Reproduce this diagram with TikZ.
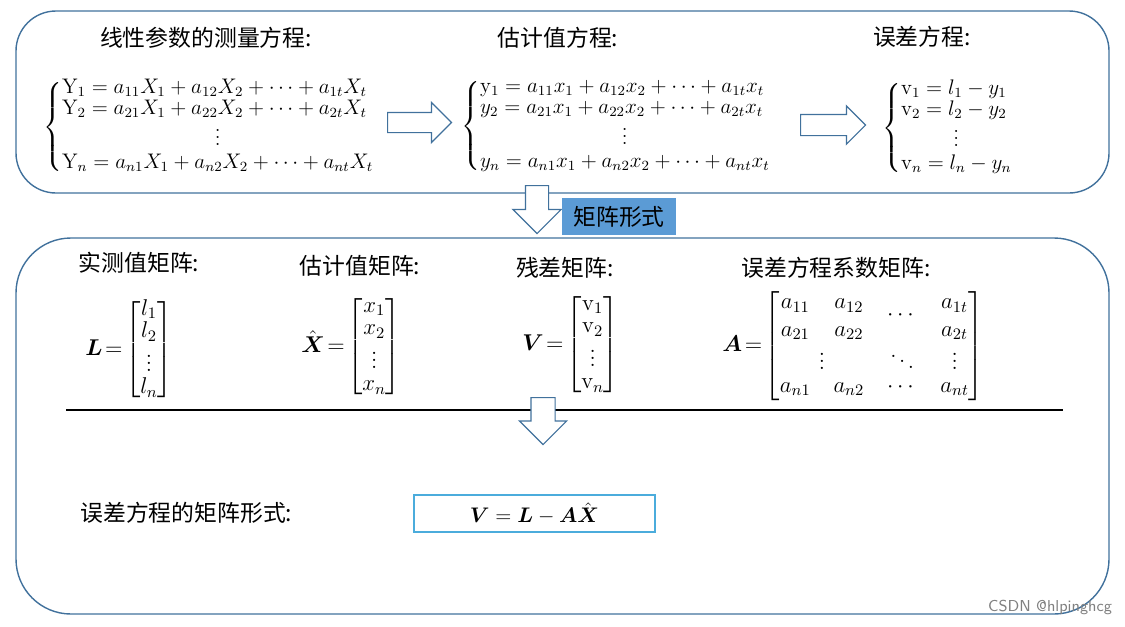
\RequirePackage{fix-cm}
\documentclass[tikz,border=0pt]{standalone}
\usepackage{amsmath,amssymb}
\usepackage{fontspec}
\newfontfamily\cjk{Noto Sans CJK SC}
\usetikzlibrary{shapes.arrows,positioning}
\definecolor{boxblue}{RGB}{65,113,156}
\definecolor{tagblue}{RGB}{91,155,213}
\definecolor{frameblue}{RGB}{75,172,220}
\renewcommand{\arraystretch}{0.85}

\begin{document}
\begin{tikzpicture}[x=0.02cm, y=-0.02cm, every node/.style={font=\fontsize{13}{15}\selectfont},
    heading/.style={font=\cjk\fontsize{13}{15}\selectfont, inner sep=0pt},
    eqsys/.style={anchor=west, inner sep=0pt},
    sysfont/.style={font=\fontsize{12}{14}\selectfont},
    blockarrow/.style={single arrow, draw=boxblue, fill=white, line width=0.7pt,
      inner xsep=0pt, anchor=tail}]
    \useasboundingbox (0,0) rectangle (1125,626);

    % the two frames
    \draw[boxblue, line width=0.8pt, rounded corners=0.8cm] (16,11) rectangle (1109,193);
    \draw[boxblue, line width=0.8pt, rounded corners=1.1cm] (16,238) rectangle (1109,614);

    % upper part: the three systems
    \node[heading] (measTitle) at (206,38) {线性参数的测量方程:};
    \node[heading] (estTitle) at (558,38) {估计值方程:};
    \node[heading] (errTitle) at (922,37) {误差方程:};

    \node[eqsys, sysfont] (measSys) at (43,127) {$\left\{\begin{array}{@{}l@{}}
      \mathrm{Y}_1 = a_{11}X_1 + a_{12}X_2 + \cdots + a_{1t}X_t\\
      \mathrm{Y}_2 = a_{21}X_1 + a_{22}X_2 + \cdots + a_{2t}X_t\\[-1pt]
      \multicolumn{1}{c}{\vdots}\\[1pt]
      \mathrm{Y}_n = a_{n1}X_1 + a_{n2}X_2 + \cdots + a_{nt}X_t
    \end{array}\right.$};
    \node[eqsys, sysfont] (estSys) at (461,126) {$\left\{\begin{array}{@{}l@{}}
      \mathrm{y}_1 = a_{11}x_1 + a_{12}x_2 + \cdots + a_{1t}x_t\\
      y_2 = a_{21}x_1 + a_{22}x_2 + \cdots + a_{2t}x_t\\[-1pt]
      \multicolumn{1}{c}{\vdots}\\[1pt]
      y_n = a_{n1}x_1 + a_{n2}x_2 + \cdots + a_{nt}x_t
    \end{array}\right.$};
    \node[eqsys, sysfont] (errSys) at (882,128) {$\left\{\begin{array}{@{}l@{}}
      \mathrm{v}_1 = l_1 - y_1\\
      \mathrm{v}_2 = l_2 - y_2\\[-1pt]
      \multicolumn{1}{c}{\vdots}\\[1pt]
      \mathrm{v}_n = l_n - y_n
    \end{array}\right.$};

    \node[blockarrow, minimum height=1.28cm, inner ysep=0.19cm, single arrow head extend=0.2cm] (toEst) at (387,122.5) {};
    \node[blockarrow, minimum height=1.3cm, inner ysep=0.2cm, single arrow head extend=0.17cm] (toErr) at (800,125) {};

    % matrix form
    \node[blockarrow, rotate=-90, minimum height=0.96cm, inner ysep=0.22cm, single arrow head extend=0.25cm] (toMat) at (537,185) {};
    \node[fill=tagblue, text=black, minimum width=2.28cm, minimum height=0.74cm, inner sep=0pt, font=\cjk\fontsize{13}{15}\selectfont] (matTag) at (619,216.5) {矩阵形式};

    \node[heading] (lTitle) at (139,263) {实测值矩阵:};
    \node[heading] (xTitle) at (360,266) {估计值矩阵:};
    \node[heading] (vTitle) at (565,268) {残差矩阵:};
    \node[heading] (aTitle) at (836,268) {误差方程系数矩阵:};

    \node[eqsys] (lMat) at (85,350) {$\boldsymbol{L}\!=\!\begin{bmatrix} l_1\\ l_2\\ \vdots\\ l_n \end{bmatrix}$};
    \node[eqsys] (xMat) at (301,347) {$\hat{\boldsymbol{X}}\!=\!\begin{bmatrix} x_1\\ x_2\\ \vdots\\ x_n \end{bmatrix}$};
    \node[eqsys] (vMat) at (522,345) {$\boldsymbol{V}\!=\!\begin{bmatrix} \mathrm{v}_1\\ \mathrm{v}_2\\ \vdots\\ \mathrm{v}_n \end{bmatrix}$};
    \node[eqsys] (aMat) at (722,346) {\setlength{\arraycolsep}{6.5pt}$\boldsymbol{A}\!=\!\begin{bmatrix}
      a_{11} & a_{12} & \raisebox{-1.2ex}{$\cdots$} & a_{1t}\\
      a_{21} & a_{22} & & a_{2t}\\
      \multicolumn{2}{c}{\vdots} & \ddots & \vdots\\
      a_{n1} & a_{n2} & \cdots & a_{nt}
    \end{bmatrix}$};

    \draw[line width=0.8pt] (66,410) -- (1063,410);
    \node[blockarrow, rotate=-90, minimum height=0.94cm, inner ysep=0.23cm, single arrow head extend=0.23cm] (toForm) at (543,397) {};

    \node[heading, anchor=west] (formTitle) at (80,513) {误差方程的矩阵形式:};
    \node[draw=frameblue, line width=0.9pt, minimum width=4.82cm, minimum height=0.74cm, inner sep=0pt, sysfont] (formBox) at (534.5,513.5)
      {$\boldsymbol{V} = \boldsymbol{L} - \boldsymbol{A}\hat{\boldsymbol{X}}$};

    \node[font=\sffamily\fontsize{9}{10}\selectfont, text=gray, inner sep=0pt] (mark) at (1050,607) {CSDN @hlpinghcg};
\end{tikzpicture}
\end{document}
